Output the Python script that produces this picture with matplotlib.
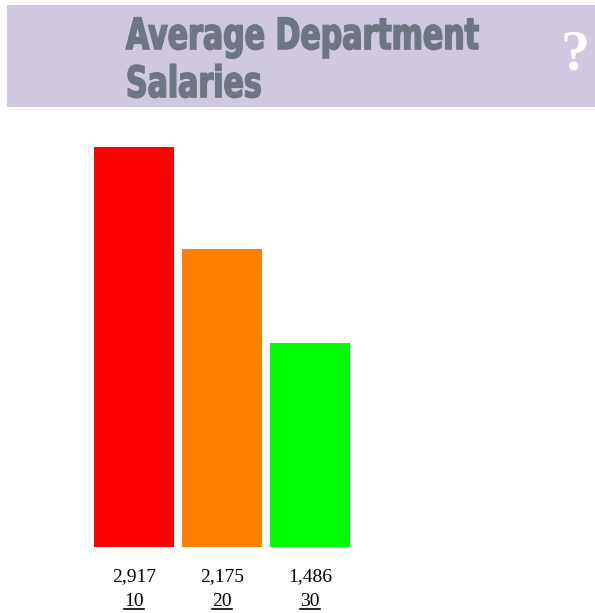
import matplotlib
matplotlib.use("Agg")
import matplotlib.pyplot as plt
from matplotlib.patches import Rectangle
from matplotlib.lines import Line2D
from matplotlib.patheffects import AbstractPathEffect
from matplotlib.transforms import Affine2D, Bbox

# average salary per department
departments = ["10", "20", "30"]
salaries = [2917, 2175, 1486]
bar_colors = ["#ff0000", "#ff8000", "#00ff00"]

W, H = 595, 613
fig = plt.figure(figsize=(W / 100, H / 100), dpi=100)
fig.patch.set_facecolor("white")


def px(x, y):
    """pixel coords (from top-left) -> figure fraction"""
    return x / W, 1 - y / H


class Squeeze(AbstractPathEffect):
    """Draw text squeezed horizontally (condensed look), optionally fattened."""

    def __init__(self, sx=1.0, stroke=0.0):
        super().__init__()
        self.sx = sx
        self.stroke = stroke

    def draw_path(self, renderer, gc, tpath, affine, rgbFace=None):
        x0 = affine.get_matrix()[0, 2]
        aff = affine + Affine2D().translate(-x0, 0).scale(self.sx, 1).translate(x0, 0)
        gc0 = renderer.new_gc()
        gc0.copy_properties(gc)
        if self.stroke:
            gc0.set_linewidth(self.stroke)
            gc0.set_foreground(rgbFace)
            gc0.set_joinstyle("miter")
        renderer.draw_path(gc0, tpath, aff, rgbFace)
        gc0.restore()


def squeeze_text(t, sx, stroke):
    """Condense a left-aligned text and keep its reported extent in step."""
    t.set_path_effects([Squeeze(sx, stroke)])
    orig = t.get_window_extent

    def extent(renderer=None, dpi=None):
        bb = orig(renderer, dpi)
        return Bbox.from_extents(bb.x0, bb.y0, bb.x0 + bb.width * sx, bb.y1)

    t.get_window_extent = extent


# header band
x0, y0 = px(7, 107)
fig.patches.append(Rectangle((x0, y0), 1 - x0, (107 - 5) / H,
                             transform=fig.transFigure,
                             facecolor="#d0c8df", edgecolor="none"))

title_kw = dict(ha="left", va="baseline", fontsize=31, fontweight="bold",
                color="#6e7681", family="DejaVu Sans")
t1 = fig.text(*px(126, 49), "Average Department", **title_kw)
t2 = fig.text(*px(126, 97), "Salaries", **title_kw)

fig.text(*px(575, 56), "?", ha="center", va="center", fontsize=42,
         fontweight="bold", color="white", family="Liberation Serif")

# bar area: 3 slots of 88px starting at x=90, baseline at y=547
ax = fig.add_axes([90 / W, (H - 547) / H, 264 / W, 400 / H])
ax.bar(range(len(salaries)), salaries, width=80 / 88, color=bar_colors)
ax.set_xlim(-0.5, len(salaries) - 0.5)
ax.set_ylim(0, max(salaries))
ax.axis("off")

dept_labels = []
for i, (dept, sal) in enumerate(zip(departments, salaries)):
    ax.annotate(f"{sal:,}", (i, 0), xytext=(0, -30), textcoords="offset pixels",
                ha="center", va="center", fontsize=14,
                family="Liberation Serif", annotation_clip=False)
    t = ax.annotate(dept, (i, 0), xytext=(0, -55), textcoords="offset pixels",
                    ha="center", va="center", fontsize=14,
                    family="Liberation Serif", annotation_clip=False)
    dept_labels.append(t)

fig.canvas.draw()
renderer = fig.canvas.get_renderer()

# condense the title so the first line spans ~353px
w1 = t1.get_window_extent(renderer).width
sx = 353 / w1
squeeze_text(t1, sx, 1.2)
squeeze_text(t2, sx, 1.2)

# underline the department numbers (they are links)
for t in dept_labels:
    bb = t.get_window_extent(renderer)
    y = bb.y0 + 2
    fig.add_artist(Line2D([bb.x0 / W, bb.x1 / W], [y / H, y / H],
                          transform=fig.transFigure, color="black", lw=1.2))

fig.savefig("out.png", dpi=100, facecolor=fig.get_facecolor())
